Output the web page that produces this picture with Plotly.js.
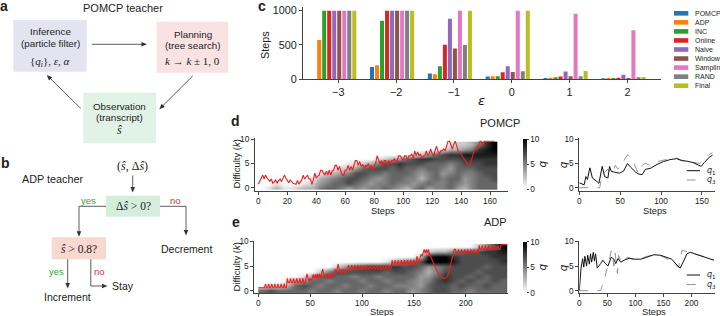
<!DOCTYPE html>
<html><head><meta charset="utf-8">
<script src="https://cdn.plot.ly/plotly-3.0.1.min.js"></script>
<style>html,body{margin:0;padding:0;background:#fff;}#chart{width:720px;height:316px;}</style>
</head><body><div id="chart"></div>
<script>
// ---------- panel c data ----------
const epsilons = [-3, -2, -1, 0, 1, 2];
const epsLabels = ['\u22123', '\u22122', '\u22121', '0', '1', '2'];
const teacherNames = ['POMCP', 'ADP', 'INC', 'Online', 'Naive', 'Window', 'Sampling', 'RAND', 'Final'];
const teacherColors = ['#1f77b4', '#ff7f0e', '#2ca02c', '#d62728', '#9467bd', '#8c564b', '#e377c2', '#7f7f7f', '#bcbd22'];
const stepsPOMCP = [null, 180, 83, 39, 19, 15];
const stepsADP = [571, 205, 73, 44, 24, 19];
const stepsINC = [1000, 854, 190, 44, 29, 19];
const stepsOnline = [1000, 1000, 502, 102, 39, 24];
const stepsNaive = [1000, 1000, 883, 190, 112, 68];
const stepsWindow = [1000, 1000, 449, 107, 44, 19];
const stepsSampling = [1000, 1000, 1000, 1000, 956, 714];
const stepsRAND = [1000, 1000, 498, 117, 44, 29];
const stepsFinal = [1000, 1000, 1000, 1000, 121, 34];
const stepsByTeacher = [stepsPOMCP, stepsADP, stepsINC, stepsOnline, stepsNaive, stepsWindow, stepsSampling, stepsRAND, stepsFinal];

// ---------- panel d data (POMCP) ----------
const pomcpDifficulty = [
 0.7,1.4,2.0,2.6,1.8,2.6,2.0,1.6,1.3,1.8,
 0.9,1.2,1.6,1.0,1.4,1.8,1.3,2.0,2.6,2.0,
 1.5,1.0,1.6,1.2,0.9,0.8,0.7,1.5,0.7,1.2,
 1.6,2.6,1.8,2.2,2.6,1.8,1.8,0.7,1.6,3.0,
 2.0,2.4,2.6,3.6,3.6,3.0,2.6,3.4,2.6,3.6,
 2.6,3.4,3.6,4.6,4.6,3.6,4.4,3.4,2.6,2.6,
 3.6,3.6,4.6,3.6,4.4,3.6,4.4,5.6,5.6,4.6,
 5.4,4.4,4.8,4.0,4.6,4.4,5.0,4.0,4.6,3.6,
 4.6,5.0,6.6,5.6,5.0,5.6,4.6,5.6,5.6,4.6,
 5.6,5.0,5.6,5.6,6.0,5.0,6.0,6.6,6.6,6.0,
 5.6,6.6,6.6,5.6,6.6,6.6,7.0,6.0,7.6,6.6,
 7.4,6.6,7.0,6.0,6.6,6.6,7.6,6.6,7.0,8.0,
 7.0,6.6,7.6,8.6,7.6,7.0,7.6,7.6,8.0,7.6,
 8.6,9.6,9.6,8.6,8.0,9.0,9.6,8.6,7.6,7.3,
 7.0,6.5,6.0,5.5,5.0,4.6,4.6,5.6,6.6,7.6,
 8.0,8.6,8.6,9.6,9.6,8.6,9.6,9.6,9.6,9.6,
 9.6,9.6,9.6,9.6];
// rows k = 0..9, columns = 5-step bins from step 0
const pomcpHeat = [
 [0,1,3,1,1,2,3,3,5,6,6,5,4,5,4,5,5,6,5,4,3,5,6,4,5,5,6,4,3,5,6,6,6],
 [0,0,1,0,0,0,1,2,4,5,6,6,7,6,5,4,5,5,6,5,5,4,5,6,5,5,6,5,4,5,6,6,6],
 [0,0,0,0,0,0,0,1,3,4,5,6,7,7,6,5,4,5,6,6,5,5,3,5,6,5,6,6,4,5,6,6,7],
 [0,0,0,0,0,0,0,0,1,2,3,4,5,7,7,6,6,5,6,6,6,5,4,5,6,4,5,6,5,5,6,7,7],
 [0,0,0,0,0,0,0,0,0,0,1,2,2,4,6,7,7,7,6,7,6,6,5,6,6,5,4,6,6,6,7,7,7],
 [0,0,0,0,0,0,0,0,0,0,0,0,1,1,2,3,5,7,7,8,7,7,7,6,6,6,5,6,7,7,7,8,8],
 [0,0,0,0,0,0,0,0,0,0,0,0,0,0,0,0,1,2,3,4,6,7,8,8,7,7,7,7,8,8,8,8,8],
 [0,0,0,0,0,0,0,0,0,0,0,0,0,0,0,0,0,0,0,0,0,1,2,4,6,7,8,8,9,9,9,9,9],
 [0,0,0,0,0,0,0,0,0,0,0,0,0,0,0,0,0,0,0,0,0,0,0,0,0,1,3,3,4,5,8,9,10],
 [0,0,0,0,0,0,0,0,0,0,0,0,0,0,0,0,0,0,0,0,0,0,0,0,0,0,1,2,2,3,5,8,10]];
const pomcpQ1Steps = [0,3,6,8,10,12,13,16,19,22,24,26,28,31,35,37,39,43,49,54,57,59,63,69,73,77,81,87,95,103,111,119,125,131,139,145,149,153,159,163];
const pomcpQ1 = [1.0,0.8,0.6,2.3,1.7,3.4,4.1,2.0,1.5,1.2,0.9,3.0,4.4,2.3,2.0,4.4,3.4,3.2,3.0,3.4,4.6,5.0,4.2,3.2,2.8,2.7,3.8,4.0,4.8,5.4,5.8,6.0,5.6,5.5,5.2,4.8,4.4,5.2,6.3,6.7];
const pomcpQ3Steps = [0,25,27,29,31,35,37,40,42,44,47,51,56,59,63,67,72,77,80,85,91,101,111,119,127,135,143,147,153,159,163];
const pomcpQ3 = [0,0,2.0,3.0,3.2,3.8,3.4,4.2,3.6,4.6,3.9,4.4,6.0,6.8,6.2,5.0,3.0,4.6,5.0,4.8,5.2,5.6,6.0,6.1,5.6,5.4,5.2,5.0,5.8,6.9,7.2];

// ---------- panel e data (ADP) ----------
const adpDifficulty = [
 0.6,0.6,0.6,0.6,0.6,0.6,0.6,
 1.4,0.6,0.6,1.4,0.6,0.6,1.4,0.6,0.6,1.4,0.6,0.6,1.4,0.6,0.6,1.4,0.6,0.6,1.4,0.6,0.6,
 2.5,1.6,1.6,2.5,1.6,1.6,2.5,1.6,1.6,2.5,1.6,1.6,2.5,1.6,1.6,2.5,1.6,1.6,2.5,
 3.4,2.5,1.9,2.5,2.0,2.5,3.3,2.5,3.3,2.5,
 3.4,2.5,3.4,2.6,3.4,4.4,3.4,2.6,3.4,2.6,
 3.4,2.6,3.4,2.6,3.4,3.0,3.4,4.4,3.4,4.4,
 5.4,4.4,3.6,4.4,3.6,4.4,3.6,4.4,3.6,4.4,
 5.2,4.4,4.4,5.2,4.4,4.4,5.2,4.4,4.4,5.2,4.4,4.4,5.2,4.4,4.4,5.2,4.4,4.4,5.2,4.4,4.4,
 5.2,4.4,4.4,5.2,4.4,4.4,5.2,4.4,4.4,5.2,4.4,4.4,5.2,4.4,4.4,5.2,4.4,4.4,5.2,4.4,4.4,
 6.2,5.4,5.4,6.2,5.4,5.4,6.2,5.4,5.4,6.2,5.4,5.4,6.2,5.4,5.4,6.2,5.4,5.4,6.2,5.4,5.4,6.2,5.4,5.4,
 7.0,6.2,5.6,6.6,7.4,7.0,7.6,8.4,7.6,8.4,7.6,8.4,
 7.5,7.0,6.5,6.0,5.5,5.0,4.5,4.0,3.7,3.4,3.1,2.9,2.7,2.6,2.5,2.5,2.6,2.8,3.2,4.0,5.0,6.0,7.0,7.6,8.4,
 8.4,7.6,7.6,8.4,7.6,7.6,8.4,7.6,7.6,8.4,7.6,7.6,8.4,7.6,7.6,8.4,7.6,7.6,8.4,7.6,7.6,8.4,7.6,
 9.2,8.4,8.4,9.2,8.4,8.4,9.2,8.4,8.4,9.2,8.4,8.4,9.2,8.4,8.4,9.2,8.4,8.4,9.2,8.4,8.4,9.2,
 9.4,9.4,9.4,9.4,9.4,9.4];
// rows k = 0..9, columns = 8-step bins from step 0
const adpHeat = [
 [6,7,6,6,6,6,5,6,6,5,6,6,5,6,6,5,6,6,4,5,6,7,7,6,6,5,6,6,6,6],
 [0,1,1,3,6,7,6,5,6,6,5,6,6,5,6,6,5,5,5,4,6,7,7,6,7,6,6,7,6,6],
 [0,0,0,1,3,4,6,6,5,6,6,6,5,6,6,5,6,6,5,4,5,7,8,7,6,7,6,6,7,6],
 [0,0,0,0,0,1,4,6,7,6,6,5,6,6,5,6,6,6,6,4,4,6,8,7,7,6,7,6,7,7],
 [0,0,0,0,0,0,0,2,5,7,7,7,7,7,7,6,7,7,6,5,3,5,7,7,7,7,6,7,7,7],
 [0,0,0,0,0,0,0,0,0,2,4,6,7,8,8,8,8,7,7,6,4,5,6,7,7,7,7,6,7,7],
 [0,0,0,0,0,0,0,0,0,0,0,0,0,0,0,1,3,5,6,7,10,10,10,9,7,7,7,7,7,8],
 [0,0,0,0,0,0,0,0,0,0,0,0,0,0,0,0,0,0,0,2,9,10,10,8,7,7,7,7,8,8],
 [0,0,0,0,0,0,0,0,0,0,0,0,0,0,0,0,0,0,0,0,2,3,3,5,6,7,7,8,8,9],
 [0,0,0,0,0,0,0,0,0,0,0,0,0,0,0,0,0,0,0,0,0,0,0,0,0,0,2,4,7,10]];
const adpQ1Steps = [0,3,6,8,10,13,15,18,20,22,25,27,29,32,38,42,46,51,57,61,65,69,74,80,89,98,110,121,133,145,157,165,174,180,186,192,198,209,221,233,240];
const adpQ1 = [0,4.5,6.5,4.8,7.0,5.0,7.2,5.4,7.5,5.8,7.8,6.0,7.5,4.6,5.5,6.2,5.6,5.0,6.8,6.5,5.5,6.5,5.8,6.2,6.6,6.4,6.4,6.8,7.3,7.2,6.8,6.4,5.2,4.6,6.0,7.5,7.8,7.4,7.0,6.6,6.2];
const adpQ3Steps = [0,38,44,50,55,57,60,62,64,66,68,70,72,75,80,86,95,110,122,133,145,157,165,172,177,183,190,198,210,222,234,240];
const adpQ3 = [0,0,2,4.5,7,8.1,6.5,5.0,7.6,6.0,3.5,7.2,6.5,5.6,6.3,6.8,6.4,6.6,7.0,7.4,7.1,6.5,6.0,5.2,4.7,8.2,8.0,7.8,7.3,7.0,6.6,6.2];

// ---------- helpers ----------
const W = 720, H = 316;
const X = p => p / W, Y = p => 1 - p / H;
const SANS = 'Liberation Sans, Arial, sans-serif';
const SERIF = 'Liberation Serif, DejaVu Serif, serif';
const MATH = 'DejaVu Sans, sans-serif';
const INK = '#222';
const annotations = [], shapes = [];
function T(px, py, text, size, o) {
  o = o || {};
  annotations.push({xref:'paper', yref:'paper', x:X(px), y:Y(py), text:text, showarrow:false,
    font:{family:o.family || SANS, size:size, color:o.color || INK},
    xanchor:o.xanchor || 'center', yanchor:'middle', textangle:o.angle || 0});
}
function LINE(x1, y1, x2, y2, o) {
  o = o || {};
  shapes.push({type:'line', xref:'paper', yref:'paper', x0:X(x1), y0:Y(y1), x1:X(x2), y1:Y(y2),
    line:{color:o.color || '#333', width:o.width || 0.8, dash:o.dash || 'solid'}});
}
// arrow drawn as a shaft line plus a small filled head (decoration geometry in pixels)
function ARROW(x1, y1, x2, y2) {
  const dx = x2 - x1, dy = y2 - y1, L = Math.hypot(dx, dy), ux = dx / L, uy = dy / L;
  const hl = 5.5, hw = 2.3;
  const bx = x2 - ux * hl, by = y2 - uy * hl;
  LINE(x1, y1, bx + ux * 1, by + uy * 1);
  const p1 = [bx - uy * hw, by + ux * hw], p2 = [bx + uy * hw, by - ux * hw];
  shapes.push({type:'path', xref:'paper', yref:'paper',
    path:'M' + X(x2) + ',' + Y(y2) + ' L' + X(p1[0]) + ',' + Y(p1[1]) + ' L' + X(p2[0]) + ',' + Y(p2[1]) + ' Z',
    fillcolor:'#333', line:{width:0}});
}
function BOX(x1, y1, x2, y2, fill) {
  shapes.push({type:'rect', xref:'paper', yref:'paper', x0:X(x1), y0:Y(y2), x1:X(x2), y1:Y(y1),
    fillcolor:fill, line:{width:0}, layer:'below'});
}

// ---------- panel a ----------
T(4, 6, '<b>a</b>', 14);
T(122.5, 7.5, 'POMCP teacher', 11);
BOX(13.3, 20, 86.7, 71.7, '#e4e4f1');
T(50, 31.7, 'Inference', 9.8);
T(50, 43.3, '(particle filter)', 9.8);
T(50, 61.5, '{<i>q<sub>i</sub></i>}, <i>ε</i>, <i>α</i>', 11, {family:SERIF});
BOX(156.7, 21.7, 228.3, 72.7, '#f8e2e2');
T(192.5, 34.3, 'Planning', 9.8);
T(192.5, 45.7, '(tree search)', 9.8);
T(192.5, 61, '<i>k</i> → <i>k</i> ± 1, 0', 11, {family:SERIF});
BOX(83.3, 92.7, 156, 143.3, '#e1f3e7');
T(119.7, 106, 'Observation', 9.8);
T(119.7, 117.3, '(transcript)', 9.8);
T(119.7, 129.5, '<i>ŝ</i>', 12, {family:SERIF});
ARROW(92, 44.3, 147, 44.3);
ARROW(192.7, 76, 159.3, 109.3);
ARROW(80.7, 108.3, 46.7, 75);

// ---------- panel b ----------
T(5, 163, '<b>b</b>', 14);
T(52.5, 179.3, 'ADP teacher', 10.8);
T(132.8, 166, '(<i>ŝ</i>, Δ<i>ŝ</i>)', 12, {family:SERIF});
ARROW(132.7, 175.5, 132.7, 192.5);
BOX(106, 195.7, 160, 216.7, '#d3eedc');
T(133, 206.3, 'Δ<i>ŝ</i> &gt; 0?', 11.5, {family:SERIF});
T(88.3, 200, 'yes', 9.5, {color:'#3aa33a'});
T(175, 200, 'no', 9.5, {color:'#d9343a'});
LINE(106, 206.3, 79, 206.3);
ARROW(79, 206.3, 79, 236.8);
LINE(160, 206.3, 186, 206.3);
ARROW(186, 206.3, 186, 235.5);
T(186, 249.3, 'Decrement', 10.5);
BOX(51.7, 237.3, 106, 259.3, '#f9d8cf');
T(79, 248.5, '<i>ŝ</i> &gt; 0.8?', 11.5, {family:SERIF});
T(56, 271.7, 'yes', 9.5, {color:'#3aa33a'});
T(99.3, 271.7, 'no', 9.5, {color:'#d9343a'});
ARROW(67.7, 259.3, 67.7, 288.5);
LINE(90.8, 259.3, 90.8, 286);
ARROW(90.8, 286, 107.5, 286);
T(110, 286, 'Stay', 10.5, {xanchor:'left'});
T(67, 297, 'Increment', 10.5);

// ---------- panel c ----------
T(262, 6, '<b>c</b>', 14);
T(265, 45, 'Steps', 10.8, {angle:-90});
T(481.5, 100.5, '<i>ε</i>', 13, {family:MATH});
teacherNames.forEach((name, i) => {
  const cy = 13.3 + i * 9.05;
  shapes.push({type:'rect', xref:'paper', yref:'paper', x0:X(674), x1:X(688.3), y0:Y(cy + 2.3), y1:Y(cy - 2.3),
    fillcolor:teacherColors[i], line:{width:0}});
  T(692.7, cy, name, 7, {xanchor:'left'});
});

// ---------- panels d / e text ----------
T(235.5, 120.5, '<b>d</b>', 14);
T(500, 122.7, 'POMCP', 11);
T(236, 221.7, '<b>e</b>', 14);
T(495, 221.7, 'ADP', 11);
T(236, 164.5, 'Difficulty (<i>k</i>)', 9.5, {angle:-90});
T(236, 267.5, 'Difficulty (<i>k</i>)', 9.5, {angle:-90});
T(383.3, 210.5, 'Steps', 9.3);
T(381.7, 312.3, 'Steps', 9.3);
T(655, 210.5, 'Steps', 9.3);
T(654, 312.3, 'Steps', 9.3);
T(541, 164.5, '<i>q</i>', 10.5, {family:MATH, angle:-90});
T(541, 267.5, '<i>q</i>', 10.5, {family:MATH, angle:-90});
T(562.7, 164.5, '<i>q</i>', 10.5, {family:MATH, angle:-90});
T(562.7, 267.5, '<i>q</i>', 10.5, {family:MATH, angle:-90});
// q legends
[[170.7, 180], [275, 284.5]].forEach(([ya, yb]) => {
  LINE(686.7, ya, 700, ya, {color:'#111', width:1});
  LINE(686.7, yb, 700, yb, {color:'#888', width:0.9, dash:'dash'});
  T(705, ya, '<i>q</i><sub>1</sub>', 8, {xanchor:'left', family:MATH});
  T(705, yb, '<i>q</i><sub>3</sub>', 8, {xanchor:'left', family:MATH});
});

// ---------- traces ----------
const traces = [];
teacherNames.forEach((name, i) => {
  traces.push({type:'bar', name:name, x:epsilons, y:stepsByTeacher[i], marker:{color:teacherColors[i], line:{width:0}},
    xaxis:'x', yaxis:'y', hoverinfo:'skip'});
});
const greys = [[0, '#ffffff'], [1, '#000000']];
function cbar(cy, len) {
  return {x:X(523.3), xanchor:'left', xpad:0, ypad:0, thickness:4, len:len / H, lenmode:'fraction',
    y:Y(cy), yanchor:'middle', outlinewidth:0, tickvals:[0, 5, 10], ticks:'outside', ticklen:2,
    tickcolor:'#444', tickfont:{family:SANS, size:8.3, color:INK}};
}
traces.push({type:'heatmap', z:pomcpHeat, x0:2.5, dx:5, y0:0, dy:1, zmin:0, zmax:10, colorscale:greys, zsmooth:'best',
  xaxis:'x2', yaxis:'y2', colorbar:cbar(164.2, 49.7), hoverinfo:'skip'});
traces.push({type:'scatter', mode:'lines', x:pomcpDifficulty.map((v, i) => i), y:pomcpDifficulty,
  line:{color:'#e8211f', width:1.1}, xaxis:'x2', yaxis:'y2', hoverinfo:'skip'});
traces.push({type:'heatmap', z:adpHeat, x0:4, dx:8, y0:0, dy:1, zmin:0, zmax:10, colorscale:greys, zsmooth:'best',
  xaxis:'x3', yaxis:'y3', colorbar:cbar(267.4, 51.3), hoverinfo:'skip'});
traces.push({type:'scatter', mode:'lines', x:adpDifficulty.map((v, i) => i), y:adpDifficulty,
  line:{color:'#e8211f', width:1.1}, xaxis:'x3', yaxis:'y3', hoverinfo:'skip'});
traces.push({type:'scatter', mode:'lines', x:pomcpQ3Steps, y:pomcpQ3, line:{color:'#888', width:0.9, dash:'dash'}, xaxis:'x4', yaxis:'y4'});
traces.push({type:'scatter', mode:'lines', x:pomcpQ1Steps, y:pomcpQ1, line:{color:'#111', width:1}, xaxis:'x4', yaxis:'y4'});
traces.push({type:'scatter', mode:'lines', x:adpQ3Steps, y:adpQ3, line:{color:'#888', width:0.9, dash:'dash'}, xaxis:'x5', yaxis:'y5'});
traces.push({type:'scatter', mode:'lines', x:adpQ1Steps, y:adpQ1, line:{color:'#111', width:1}, xaxis:'x5', yaxis:'y5'});

function axis(domain, range, anchor, extra) {
  return Object.assign({domain:domain, range:range, anchor:anchor, showline:true, linecolor:'#444', linewidth:1,
    ticks:'outside', ticklen:3, tickwidth:1, tickcolor:'#444', showgrid:false, zeroline:false, fixedrange:true,
    tickfont:{family:SANS, size:8.3, color:INK}}, extra || {});
}
const dY = [Y(190.7), Y(138.3)], eY = [Y(293.3), Y(241)];
const layout = {
  width:W, height:H, margin:{l:0, r:0, t:0, b:0}, paper_bgcolor:'#fff', plot_bgcolor:'rgba(0,0,0,0)',
  showlegend:false, barmode:'group', bargap:0.22, bargroupgap:0.2,
  xaxis: axis([X(303), X(661)], [-3.54, 2.65], 'y', {tickvals:epsilons.map(e => e + 0.07), ticktext:epsLabels,
    tickfont:{family:SANS, size:10.8, color:INK}}),
  yaxis: axis([Y(79.3), Y(7.2)], [0, 1050], 'x', {tickvals:[0, 500, 1000], tickfont:{family:SANS, size:10.8, color:INK}}),
  xaxis2: axis([X(255), X(507.7)], [-2.3, 172.2], 'y2', {tickvals:[0, 20, 40, 60, 80, 100, 120, 140, 160], ticklabelstandoff:-1}),
  yaxis2: axis(dY, [-0.62, 10.2], 'x2', {tickvals:[0, 5, 10]}),
  xaxis3: axis([X(254.3), X(507.7)], [-3.86, 240.5], 'y3', {tickvals:[0, 50, 100, 150, 200], ticklabelstandoff:-1}),
  yaxis3: axis(eY, [-0.53, 10.1], 'x3', {tickvals:[0, 5, 10]}),
  xaxis4: axis([X(579.3), X(715)], [0, 166], 'y4', {tickvals:[0, 50, 100, 150], ticklabelstandoff:-1}),
  yaxis4: axis(dY, [-0.62, 10.2], 'x4', {tickvals:[0, 5, 10]}),
  xaxis5: axis([X(579.3), X(715)], [0, 242], 'y5', {tickvals:[0, 50, 100, 150, 200], ticklabelstandoff:-1}),
  yaxis5: axis(eY, [-0.53, 10.1], 'x5', {tickvals:[0, 5, 10]}),
  annotations:annotations, shapes:shapes
};
Plotly.newPlot('chart', traces, layout, {staticPlot:true, displayModeBar:false});
</script></body></html>
